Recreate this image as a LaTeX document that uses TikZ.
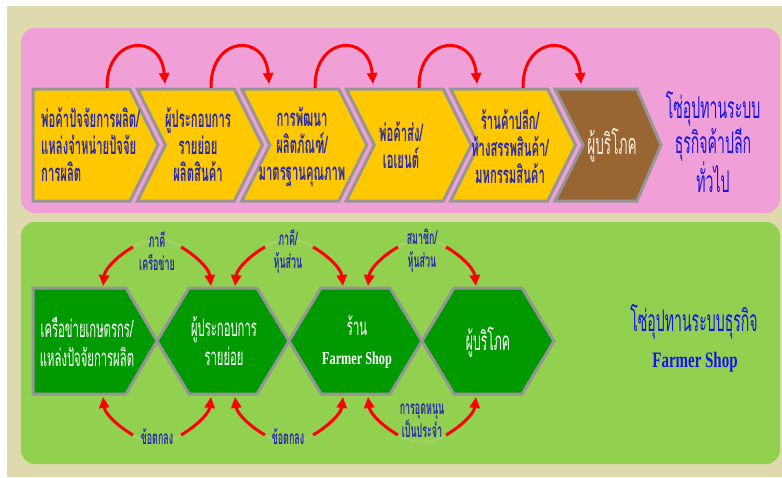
\documentclass[tikz,border=0pt]{standalone}
\usepackage{fontspec}
\usetikzlibrary{arrows.meta}
\newfontfamily\thai[Script=Thai,FakeStretch=0.47]{Loma}
\newfontfamily\farmer[FakeStretch=0.68]{Liberation Serif}
\definecolor{beige}{RGB}{222,218,174}
\definecolor{pinkbg}{RGB}{240,160,214}
\definecolor{greenbg}{RGB}{146,208,80}
\definecolor{chevyellow}{RGB}{255,200,0}
\definecolor{chevbrown}{RGB}{153,102,51}
\definecolor{hexgreen}{RGB}{0,153,0}
\definecolor{bordergray}{RGB}{150,150,150}
\definecolor{textblue}{RGB}{40,40,170}
\definecolor{titleblue}{RGB}{20,20,230}
\definecolor{arcred}{RGB}{255,0,0}
\definecolor{cream}{RGB}{245,235,220}
\definecolor{faintgreen}{RGB}{170,210,110}
\tikzset{
  chevbox/.style={fill=chevyellow,draw=bordergray,line width=3pt,line join=miter},
  brownbox/.style={fill=chevbrown,draw=bordergray,line width=3pt,line join=miter},
  hexbox/.style={fill=hexgreen,draw=bordergray,line width=3pt,line join=miter},
  redarc/.style={draw=arcred,line width=3pt,-{Triangle[length=11pt,width=10pt]}},
  faintarc/.style={draw=faintgreen,line width=1.5pt},
  chevtext/.style={font=\thai\bfseries\fontsize{24}{27}\selectfont,text=textblue,align=center,inner sep=0pt},
  browntext/.style={font=\thai\fontsize{29}{27}\selectfont,text=cream,align=center,inner sep=0pt},
  titletext/.style={font=\thai\fontsize{30}{35}\selectfont,text=titleblue,align=center,inner sep=0pt},
  hextext/.style={font=\thai\fontsize{24}{29}\selectfont,text=white,align=center,inner sep=0pt},
  labeltext/.style={font=\thai\bfseries\fontsize{19}{23}\selectfont,text=textblue,align=center,inner sep=0pt},
}
\newcommand\farmershop{{\farmer\bfseries Farmer Shop}}
\begin{document}
\begin{tikzpicture}[x=1pt,y=-1pt]
\useasboundingbox (0,0) rectangle (782,477);
\fill[white] (0,0) rectangle (782,477);
\fill[beige] (7,6) rectangle (782,477);
\fill[pinkbg,rounded corners=14pt] (21,28) rectangle (780,213);
\fill[greenbg,rounded corners=14pt] (21,222) rectangle (780,464);

% top chevrons
\draw[chevbox] (33,89) -- ++(97,0) -- ++(28,56) -- ++(-28,56) -- ++(-97,0) -- cycle;
\draw[chevbox] (137.4,89) -- ++(97,0) -- ++(28,56) -- ++(-28,56) -- ++(-97,0) -- ++(28,-56) -- cycle;
\draw[chevbox] (241.8,89) -- ++(97,0) -- ++(28,56) -- ++(-28,56) -- ++(-97,0) -- ++(28,-56) -- cycle;
\draw[chevbox] (346.2,89) -- ++(97,0) -- ++(28,56) -- ++(-28,56) -- ++(-97,0) -- ++(28,-56) -- cycle;
\draw[chevbox] (450.6,89) -- ++(97,0) -- ++(28,56) -- ++(-28,56) -- ++(-97,0) -- ++(28,-56) -- cycle;
\draw[brownbox] (555,89) -- ++(82,0) -- ++(24,56) -- ++(-24,56) -- ++(-82,0) -- ++(28,-56) -- cycle;

\node[chevtext,anchor=west,align=left] (c1) at (41,145) {พ่อค้าปัจจัยการผลิต/\\แหล่งจำหน่ายปัจจัย\\การผลิต};
\node[chevtext] (c2) at (198,145) {ผู้ประกอบการ\\รายย่อย\\ผลิตสินค้า};
\node[chevtext] (c3) at (302,147) {การพัฒนา\\ผลิตภัณฑ์/\\มาตรฐานคุณภาพ};
\node[chevtext] (c4) at (401,145) {พ่อค้าส่ง/\\เอเยนต์};
\node[chevtext] (c5) at (510,146) {ร้านค้าปลีก/\\ห้างสรรพสินค้า/\\มหกรรมสินค้า};
\node[browntext] (c6) at (612,145) {ผู้บริโภค};
\node[titletext] (t1) at (713,142) {โซ่อุปทานระบบ\\ธุรกิจค้าปลีก\\ทั่วไป};

% top arcs
\foreach \s [count=\i] in {107,211,315,419,523}{
  \coordinate (as\i) at (\s,88);
  \coordinate (ae\i) at (\s+58,84);
  \draw[redarc] (as\i) .. controls (\s-1,36) and (\s+54,32) .. (ae\i);
}

% bottom hexagons
\draw[hexbox] (33,288) -- (126,288) -- (157,341) -- (126,394) -- (33,394) -- cycle;
\draw[hexbox] (157,341) -- (189,288) -- (257,288) -- (289,341) -- (257,394) -- (189,394) -- cycle;
\draw[hexbox] (289,341) -- (321,288) -- (390,288) -- (422,341) -- (390,394) -- (321,394) -- cycle;
\draw[hexbox] (422,341) -- (454,288) -- (522,288) -- (554,341) -- (522,394) -- (454,394) -- cycle;

\node[hextext] (h1) at (87,342) {เครือข่ายเกษตรกร/\\แหล่งปัจจัยการผลิต};
\node[hextext] (h2) at (224,341) {ผู้ประกอบการ\\รายย่อย};
\node[hextext] (h3) at (357,342) {ร้าน\\{\fontsize{18}{29}\selectfont\farmershop}};
\node[hextext,font=\thai\fontsize{26}{29}\selectfont] (h4) at (488,342) {ผู้บริโภค};

\node[titletext] (t2) at (694,322) {โซ่อุปทานระบบธุรกิจ};
\node[titletext,font=\farmer\bfseries\fontsize{22}{26}\selectfont] (t3) at (695,362) {Farmer Shop};

% bottom arcs
\foreach \X in {157,289,422}{
  \draw[faintarc] (\X-24,247) .. controls (\X-12,238) and (\X+12,238) .. (\X+24,247);
  \draw[faintarc] (\X-24,435) .. controls (\X-12,444) and (\X+12,444) .. (\X+24,435);
  \draw[redarc] (\X-24,247) .. controls (\X-38,255) and (\X-52,268) .. (\X-54,286);
  \draw[redarc] (\X+24,247) .. controls (\X+38,255) and (\X+52,268) .. (\X+54,286);
  \draw[redarc] (\X-24,435) .. controls (\X-38,427) and (\X-52,414) .. (\X-54,397);
  \draw[redarc] (\X+24,435) .. controls (\X+38,427) and (\X+52,414) .. (\X+54,397);
}

\node[labeltext] (l1) at (157,251) {ภาคี\\เครือข่าย};
\node[labeltext] (l2) at (288,251) {ภาคี/\\หุ้นส่วน};
\node[labeltext] (l3) at (422,251) {สมาชิก/\\หุ้นส่วน};
\node[labeltext] (l4) at (157,437) {ข้อตกลง};
\node[labeltext] (l5) at (288,437) {ข้อตกลง};
\node[labeltext] (l6) at (422,421) {การอุดหนุน\\เป็นประจำ};
\end{tikzpicture}
\end{document}
